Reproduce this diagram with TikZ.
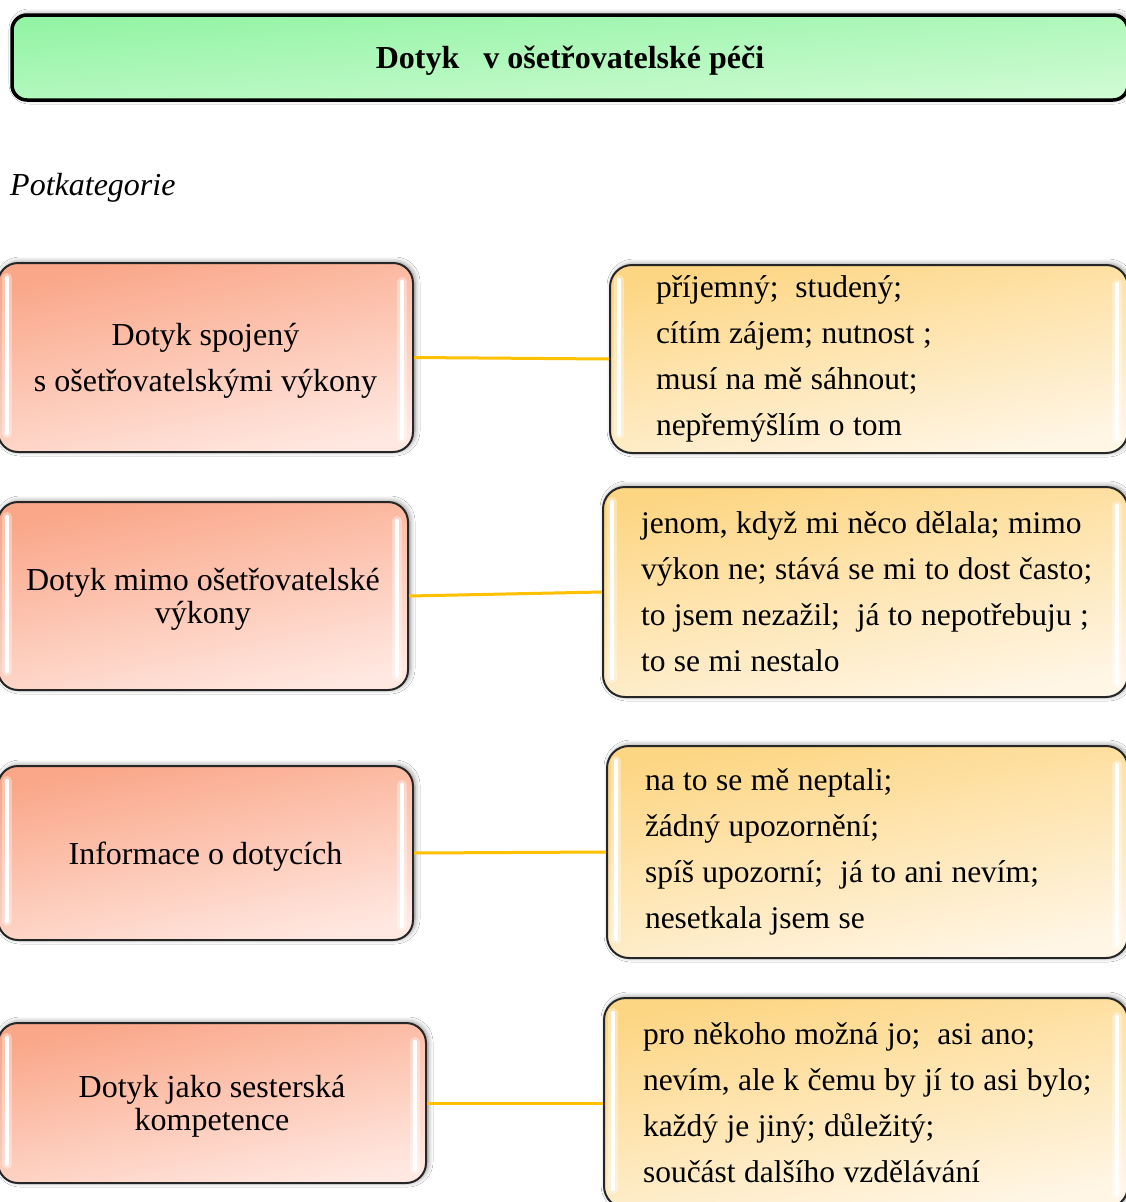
\documentclass[tikz,border=0pt]{standalone}
\usepackage{fontspec}
\setmainfont{Liberation Serif}
\usetikzlibrary{shadows.blur}

\definecolor{salmonA}{RGB}{250,166,136}
\definecolor{salmonB}{RGB}{255,232,225}
\definecolor{goldA}{RGB}{253,214,132}
\definecolor{goldB}{RGB}{255,246,230}
\definecolor{mintA}{RGB}{146,244,164}
\definecolor{mintB}{RGB}{208,251,212}
\definecolor{linkorange}{RGB}{255,192,0}
\newcommand\quotespacing{\spaceskip=8.5pt plus 2pt\relax}

\begin{document}
\begin{tikzpicture}[x=1pt,y=-1pt,
  every node/.style={font=\fontsize{32}{46}\selectfont, text=black},
  shadowed/.style={blur shadow={shadow xshift=2pt, shadow yshift=1pt,
      shadow blur radius=5pt, shadow blur steps=8, shadow opacity=45}},
  gloss/.style={path picture={
      \foreach \w/\o in {10pt/0.35, 4.5pt/1}{
        \draw[white, opacity=\o, line width=\w, line cap=round]
          ([xshift=9pt, yshift=-15pt]path picture bounding box.north west) --
          ([xshift=9pt, yshift=19pt]path picture bounding box.south west);
        \draw[white, opacity=\o, line width=\w, line cap=round]
          ([xshift=-11pt, yshift=-19pt]path picture bounding box.north east) --
          ([xshift=-11pt, yshift=14pt]path picture bounding box.south east);
      }}},
  titlebox/.style={draw=black, line width=3.5pt, rounded corners=15pt,
      top color=mintA, bottom color=mintB, shading angle=4, shadowed,
      inner sep=0pt, text depth=0pt},
  catbox/.style={draw=black!85, line width=2pt, rounded corners=20pt,
      top color=salmonA, bottom color=salmonB, shading angle=12, shadowed,
      gloss, align=center, inner sep=0pt, text depth=0pt},
  quotebox/.style={draw=black!85, line width=2pt, rounded corners=22pt,
      top color=goldA, bottom color=goldB, shading angle=11, shadowed,
      gloss, align=left, inner ysep=0pt,
      font=\fontsize{31.5}{46}\selectfont,
      execute at begin node=\quotespacing},
  tight/.style={font=\fontsize{32}{33}\selectfont},
  link/.style={draw=linkorange, line width=3pt}
]
\fill[white] (0,0) rectangle (1126,1202);
\useasboundingbox (0,0) rectangle (1126,1202);

% heading
\node[titlebox, minimum width=1116pt, minimum height=85pt] (title) at (570,57.5)
  {\textbf{Dotyk\ \ \ v ošetřovatelské péči}};
\node[anchor=base west, inner sep=0pt] (sub) at (10,195) {\textit{Potkategorie}};

% subcategories
\node[catbox, minimum width=415pt, minimum height=189pt] (l1) at (205.5,357.5)
  {Dotyk spojený\\s ošetřovatelskými výkony};
\node[catbox, tight, minimum width=410pt, minimum height=188pt] (l2) at (203,596)
  {Dotyk mimo ošetřovatelské\\výkony};
\node[catbox, minimum width=415pt, minimum height=174pt] (l3) at (205.5,853)
  {Informace o dotycích};
\node[catbox, tight, minimum width=428pt, minimum height=160pt] (l4) at (212,1103)
  {Dotyk jako sesterská\\kompetence};

% statements
\node[quotebox, inner xsep=46pt, text width=426pt, minimum height=188pt] (r1) at (869,359)
  {\mbox{příjemný;\ \ studený;}\\
   \mbox{cítím zájem; nutnost ;}\\
   \mbox{musí na mě sáhnout;}\\
   \mbox{nepřemýšlím o tom}};
\node[quotebox, inner xsep=38pt, text width=449pt, minimum height=210pt] (r2) at (865.5,592)
  {\mbox{jenom, když mi něco dělala; mimo}\\
   \mbox{výkon ne; stává se mi to dost často;}\\
   \mbox{to jsem nezažil;\ \ já to nepotřebuju ;}\\
   \mbox{to se mi nestalo}};
\node[quotebox, inner xsep=38pt, text width=445pt, minimum height=212pt] (r3) at (867.5,852)
  {\mbox{na to se mě neptali;}\\
   \mbox{žádný upozornění;}\\
   \mbox{spíš upozorní;\ \ já to ani nevím;}\\
   \mbox{nesetkala jsem se}};
\node[quotebox, inner xsep=39pt, text width=446pt, minimum height=210pt] (r4) at (866,1103)
  {\mbox{pro někoho možná jo;\ \ asi ano;}\\
   \mbox{nevím, ale k čemu by jí to asi bylo;}\\
   \mbox{každý je jiný; důležitý;}\\
   \mbox{součást dalšího vzdělávání}};

% connectors
\draw[link] (l1.east) -- (r1.west);
\draw[link] (l2.east) -- (r2.west);
\draw[link] (l3.east) -- (r3.west);
\draw[link] (l4.east) -- (r4.west);
\end{tikzpicture}
\end{document}
